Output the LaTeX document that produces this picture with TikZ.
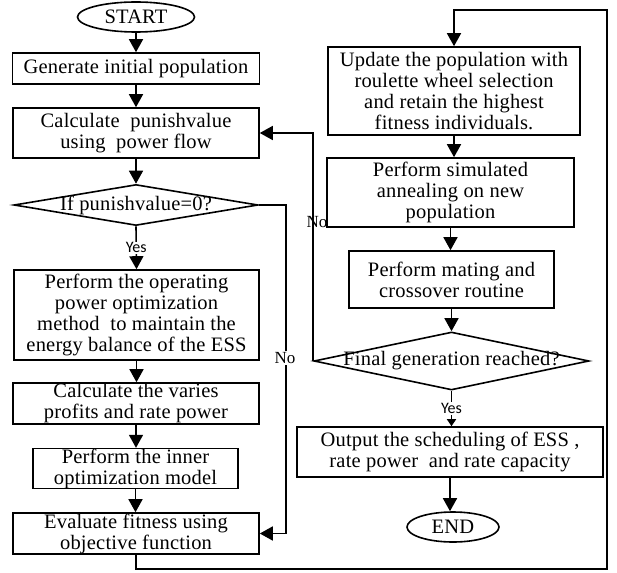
\documentclass[tikz,border=0pt]{standalone}
\usepackage{fontspec}
\setmainfont{Liberation Serif}[LetterSpace=1]
\newfontfamily\yesfont{Carlito}
\usetikzlibrary{shapes.geometric,arrows.meta}

\begin{document}
\begin{tikzpicture}[x=1pt,y=-1pt,line width=1.6pt,>={Triangle[length=13pt,width=14pt]}]
  \tikzstyle{boxfont}=[font=\fontsize{20.5}{21}\selectfont]
  \tikzstyle{proc}=[draw,rectangle,align=center,inner sep=0pt,boxfont]
  \tikzstyle{term}=[draw,ellipse,inner sep=0pt,boxfont]
  \tikzstyle{decision}=[draw,diamond,inner sep=0pt]
  \tikzstyle{answer}=[fill=white,inner sep=1pt,font=\yesfont\fontsize{16}{16}\selectfont]
  \tikzstyle{nolabel}=[inner sep=1pt,font=\fontsize{17}{17}\selectfont]

  \useasboundingbox (0,0) rectangle (617,572);

  % left column
  \node[term,minimum width=117pt,minimum height=30pt] (start) at (136,17) {START};
  \node[proc,minimum width=247pt,minimum height=31pt] (gen) at (136,68.5) {Generate initial population};
  \node[proc,minimum width=246pt,minimum height=50pt] (calc) at (136,133)
    {Calculate\ \ punishvalue\\using\ \ power flow};
  \node[decision,minimum width=244pt,minimum height=41pt,
    label={[boxfont]center:If punishvalue=0?}] (dec1) at (136,205) {};
  \node[proc,minimum width=245pt,minimum height=90pt] (operate) at (136.5,315)
    {Perform the operating\\power optimization\\method\ \ to maintain the\\energy balance of the ESS};
  \node[proc,minimum width=246pt,minimum height=41pt] (profit) at (136,403.5)
    {Calculate the varies\\profits and rate power};
  \node[proc,minimum width=205pt,minimum height=37pt] (inner) at (135.5,468.5)
    {Perform the inner\\optimization model};
  \node[proc,minimum width=246pt,minimum height=41pt] (eval) at (136,533.5)
    {Evaluate fitness using\\objective function};

  % right column
  \node[proc,minimum width=252pt,minimum height=88pt] (update) at (454,91)
    {Update the population with\\roulette wheel selection\\and retain the highest\\fitness individuals.};
  \node[proc,minimum width=247pt,minimum height=69pt] (anneal) at (450.5,192.5)
    {Perform simulated\\annealing on new\\population};
  \node[proc,minimum width=205pt,minimum height=57pt] (mating) at (451.5,279.5)
    {Perform mating and\\crossover routine};
  \node[decision,minimum width=275pt,minimum height=58pt,
    label={[boxfont]center:Final generation reached?}] (dec2) at (451.5,361) {};
  \node[proc,minimum width=306pt,minimum height=50pt] (output) at (450,452)
    {Output the scheduling of ESS ,\\rate power\ \ and rate capacity};
  \node[term,minimum width=92pt,minimum height=30pt] (end) at (453,527) {END};

  \coordinate (rt) at (607,569);

  \foreach \f/\t in {start/gen,gen/calc,calc/dec1,operate/profit,profit/inner,inner/eval,
                     update/anneal,anneal/mating,mating/dec2,output/end}
    \draw[->] (\f.south) -- (\f.south |- \t.north);

  \draw[->] (dec1.south) -- node[answer] {Yes} (operate.north);
  \draw[-{Triangle[length=7pt,width=9pt]}] (dec2.south) -- node[answer] {Yes} (dec2.south |- output.north);

  % No branches
  \draw[->] (dec1.east) -- ++(27,0) |- (eval.east);
  \node[nolabel,fill=white] at (285,358) {No};
  \draw[->] (dec2.west) |- (calc.east);
  \node[nolabel] at (317,222) {No};

  % back to selection
  \draw[->] (eval.south) |- (rt) |- ([yshift=36pt]update.north) -- (update.north);

\end{tikzpicture}
\end{document}
